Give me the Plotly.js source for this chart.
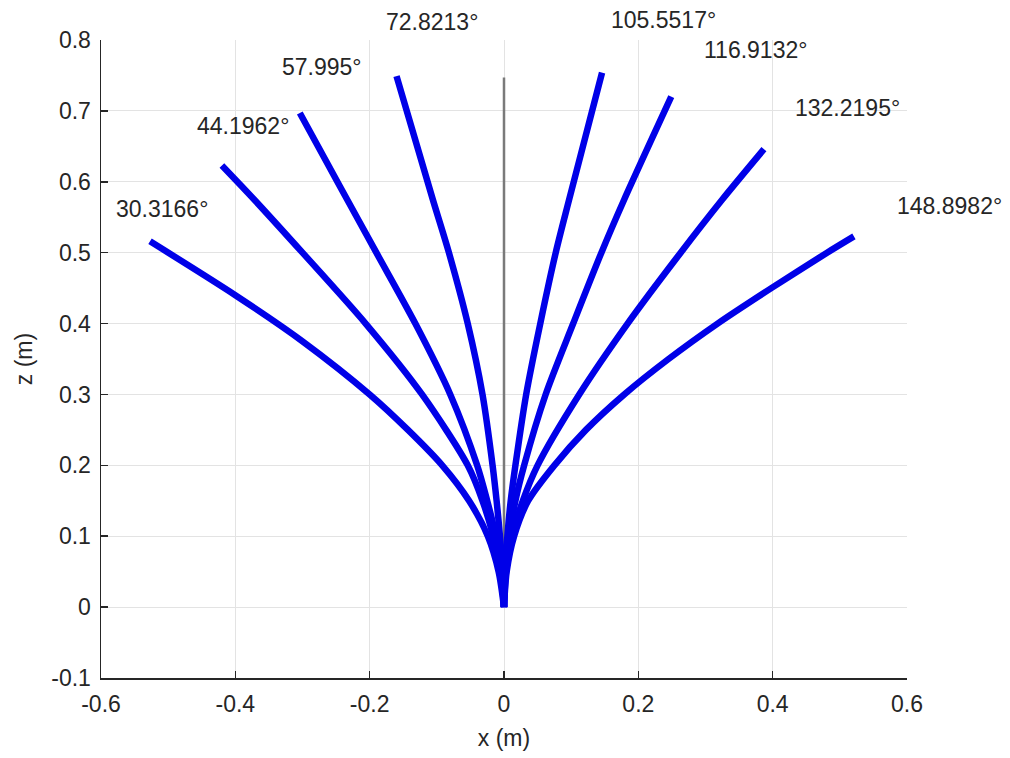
<!DOCTYPE html>
<html>
<head>
<meta charset="utf-8">
<script src="https://cdn.plot.ly/plotly-3.0.1.min.js"></script>
<style>html,body{margin:0;padding:0;background:#fff;}#chart{width:1010px;height:758px;}</style>
</head>
<body>
<div id="chart"></div>
<script>
// Tip angle labels (positions in data units x, z)
var angleLabels = ["30.3166°","44.1962°","57.995°","72.8213°","105.5517°","116.9132°","132.2195°","148.8982°"];
var labelX = [-0.509,-0.389,-0.271,-0.107,0.238,0.374,0.512,0.664];
var labelZ = [0.562,0.679,0.762,0.825,0.828,0.786,0.704,0.566];

// Curve shapes (x, z in metres)
var x1 = [0,-0.008,-0.024,-0.052,-0.092,-0.143,-0.200,-0.300,-0.400,-0.527];
var z1 = [0,0.05,0.10,0.15,0.20,0.25,0.30,0.375,0.440,0.516];
var x2 = [0,-0.005,-0.016,-0.032,-0.054,-0.122,-0.206,-0.300,-0.372,-0.420];
var z2 = [0,0.05,0.10,0.15,0.20,0.30,0.40,0.50,0.575,0.623];
var x3 = [0,-0.003,-0.012,-0.025,-0.040,-0.080,-0.132,-0.190,-0.244,-0.304];
var z3 = [0,0.05,0.10,0.15,0.20,0.30,0.40,0.50,0.593,0.697];
var x4 = [0,-0.002,-0.006,-0.011,-0.017,-0.032,-0.054,-0.082,-0.106,-0.160];
var z4 = [0,0.05,0.10,0.15,0.20,0.30,0.40,0.50,0.575,0.749];
var x5 = [0,0.0015,0.005,0.010,0.017,0.033,0.054,0.077,0.097,0.146];
var z5 = [0,0.05,0.10,0.15,0.20,0.30,0.40,0.50,0.575,0.754];
var x6 = [0,0.002,0.008,0.017,0.030,0.062,0.103,0.145,0.179,0.249];
var z6 = [0,0.05,0.10,0.15,0.20,0.30,0.40,0.50,0.575,0.720];
var x7 = [0,0.003,0.012,0.028,0.050,0.112,0.184,0.263,0.325,0.387];
var z7 = [0,0.05,0.10,0.15,0.20,0.30,0.40,0.50,0.575,0.646];
var x8 = [0,0.004,0.015,0.036,0.075,0.122,0.179,0.245,0.318,0.398,0.481,0.521];
var z8 = [0,0.05,0.10,0.15,0.20,0.25,0.30,0.35,0.40,0.45,0.50,0.523];

// Straight reference (vertical) line
var refX = [0,0];
var refZ = [0,0.747];

var xRange = [-0.6, 0.6];
var zRange = [-0.1, 0.8];
var xTicks = [-0.6,-0.4,-0.2,0,0.2,0.4,0.6];
var xTickText = ["-0.6","-0.4","-0.2","0","0.2","0.4","0.6"];
var zTicks = [-0.1,0,0.1,0.2,0.3,0.4,0.5,0.6,0.7,0.8];
var zTickText = ["-0.1","0","0.1","0.2","0.3","0.4","0.5","0.6","0.7","0.8"];

var curvesX = [x1,x2,x3,x4,x5,x6,x7,x8];
var curvesZ = [z1,z2,z3,z4,z5,z6,z7,z8];

var FONT = 'Liberation Sans, Arial, Helvetica, sans-serif';
var TXT = '#262626';
var FS = 23;

var traces = [{
  x: refX, y: refZ, mode: 'lines', type: 'scatter',
  line: {color: '#7a7a7a', width: 2.5}, hoverinfo: 'skip'
}];
for (var i = 0; i < curvesX.length; i++) {
  traces.push({
    x: curvesX[i], y: curvesZ[i], mode: 'lines', type: 'scatter',
    line: {color: '#0000e8', width: 6.5, shape: 'spline', smoothing: 0.8},
    hoverinfo: 'skip'
  });
}

// labels may lie outside the axis range, so place them in paper units
var annotations = angleLabels.map(function(t, i) {
  return {
    xref: 'paper', yref: 'paper',
    x: (labelX[i] - xRange[0]) / (xRange[1] - xRange[0]),
    y: (labelZ[i] - zRange[0]) / (zRange[1] - zRange[0]),
    xanchor: 'center', yanchor: 'middle',
    text: t, showarrow: false,
    font: {family: FONT, size: FS, color: TXT}
  };
});

var layout = {
  width: 1010, height: 758,
  margin: {l: 101, r: 103, t: 40, b: 80},
  paper_bgcolor: '#ffffff', plot_bgcolor: '#ffffff',
  showlegend: false,
  font: {family: FONT, size: FS, color: TXT},
  xaxis: {
    range: xRange, tickvals: xTicks, ticktext: xTickText,
    showgrid: true, gridcolor: '#e3e3e3', gridwidth: 1, zeroline: false,
    showline: true, linecolor: TXT, linewidth: 1.5,
    ticks: 'inside', ticklen: 7, tickcolor: TXT, tickwidth: 1.5,
    ticklabelstandoff: 5,
    tickfont: {family: FONT, size: FS, color: TXT},
    title: {text: 'x (m)', font: {family: FONT, size: FS, color: TXT}, standoff: 14},
    fixedrange: true
  },
  yaxis: {
    range: zRange, tickvals: zTicks, ticktext: zTickText,
    showgrid: true, gridcolor: '#e3e3e3', gridwidth: 1, zeroline: false,
    showline: true, linecolor: TXT, linewidth: 1.5,
    ticks: 'inside', ticklen: 7, tickcolor: TXT, tickwidth: 1.5,
    ticklabelstandoff: 4,
    tickfont: {family: FONT, size: FS, color: TXT},
    title: {text: 'z (m)', font: {family: FONT, size: FS, color: TXT}, standoff: 12},
    fixedrange: true
  },
  annotations: annotations
};

Plotly.newPlot('chart', traces, layout, {displayModeBar: false, staticPlot: true});
</script>
</body>
</html>
